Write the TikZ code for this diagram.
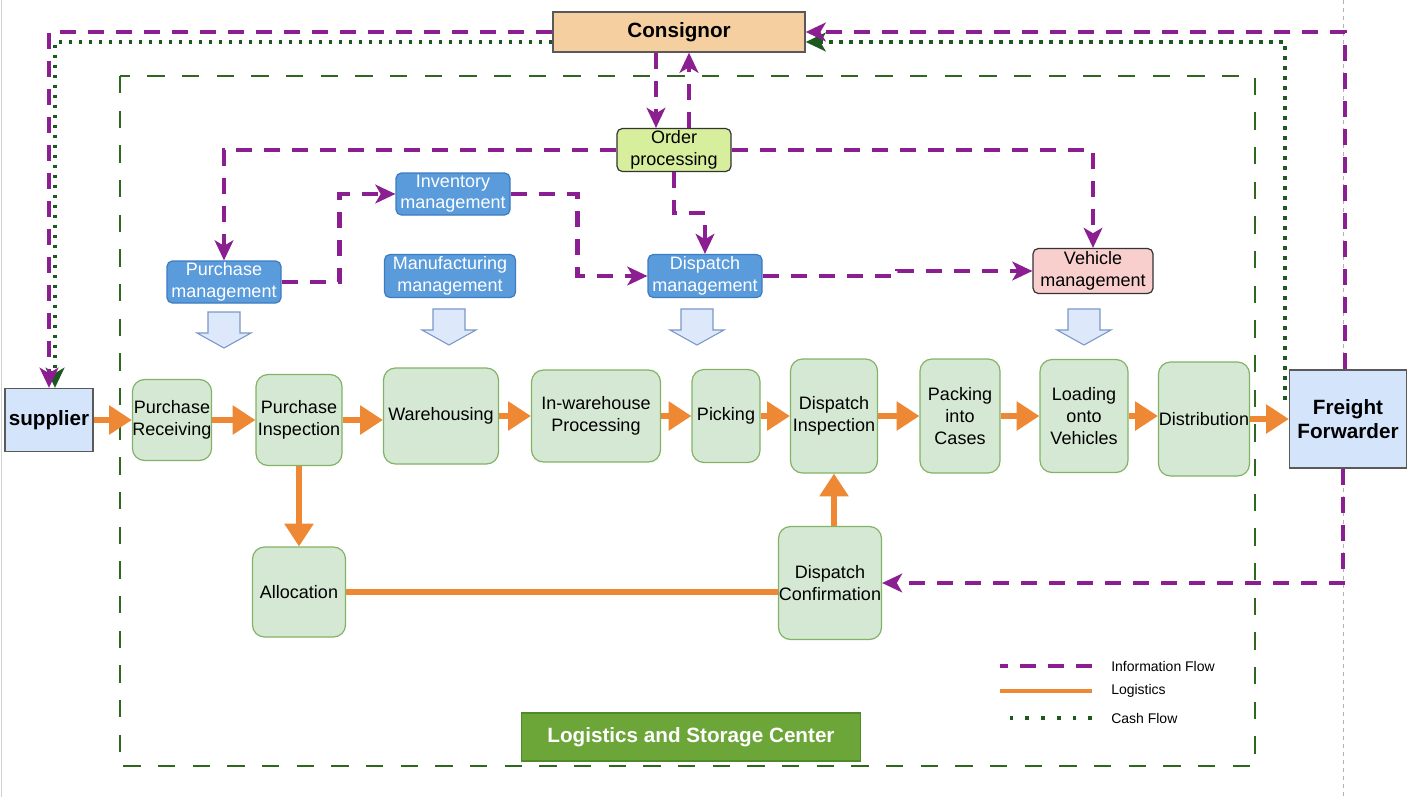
\documentclass[tikz,border=0pt]{standalone}
\usepackage{fontspec}
\setmainfont{Liberation Sans}
\usetikzlibrary{arrows.meta,calc}

\definecolor{infopurple}{RGB}{139,30,145}
\definecolor{logiorange}{RGB}{238,136,52}
\definecolor{cashgreen}{RGB}{28,88,32}
\definecolor{centergreen}{RGB}{46,104,30}
\definecolor{stepfill}{HTML}{D5E8D4}
\definecolor{stepdraw}{HTML}{82B366}
\definecolor{mgmtfill}{HTML}{5A9BDB}
\definecolor{mgmtdraw}{HTML}{3D7CC0}
\definecolor{partyfill}{HTML}{D4E5FB}
\definecolor{consfill}{HTML}{F5CFA0}
\definecolor{orderfill}{HTML}{D7EE9C}
\definecolor{vehfill}{HTML}{F8CFCD}
\definecolor{hollowfill}{HTML}{DDE8FA}
\definecolor{hollowdraw}{HTML}{7B97C8}
\definecolor{labelfill}{HTML}{6CA538}
\definecolor{labeldraw}{HTML}{4F8A2A}

\begin{document}
\begin{tikzpicture}[x=0.75pt,y=-0.75pt]
    \tikzstyle{stepbox} = [rectangle, rounded corners=9pt, draw=stepdraw, fill=stepfill, line width=0.9pt, align=center, inner sep=0pt, font=\fontsize{13.5}{16.5}\selectfont]
    \tikzstyle{mgmt} = [rectangle, rounded corners=4pt, draw=mgmtdraw, fill=mgmtfill, line width=0.9pt, align=center, inner sep=0pt, text=white, minimum width=85.5pt, minimum height=31.5pt, font=\fontsize{13.5}{16}\selectfont]
    \tikzstyle{infobox} = [rectangle, rounded corners=4pt, draw=black!80, line width=0.9pt, align=center, inner sep=0pt, font=\fontsize{13.5}{16}\selectfont]
    \tikzstyle{party} = [rectangle, draw=black!65, fill=partyfill, line width=1pt, align=center, inner sep=0pt, font=\fontsize{15.5}{18}\selectfont\bfseries]
    \tikzstyle{logi} = [-{Triangle[length=17pt,width=21pt]}, draw=logiorange, line width=3.9pt]
    \tikzstyle{info} = [-{Stealth[length=15pt,width=14pt,inset=4pt]}, draw=infopurple, line width=3.5pt, dash pattern=on 12pt off 9pt]
    \tikzstyle{cash} = [-{Stealth[length=15pt,width=14pt,inset=4pt]}, draw=cashgreen, line width=2.8pt, dash pattern=on 2.8pt off 4.7pt]
    \tikzstyle{hollow} = [draw=hollowdraw, fill=hollowfill, line width=0.8pt]
    \tikzstyle{legtext} = [anchor=west, inner sep=0pt, font=\fontsize{10.5}{12}\selectfont]

    \fill[white] (0,0) rectangle (1425,797);
    \useasboundingbox (0,0) rectangle (1425,797);
    \draw[black!18, line width=0.75pt] (1.5,0) -- (1.5,797);
    \draw[black!30, line width=0.6pt, dash pattern=on 3pt off 3pt] (1343,0) -- (1343,797);

    % logistics and storage center frame
    \draw[centergreen, line width=1.8pt, dash pattern=on 13pt off 13pt] (120,76) rectangle (1255,766);
    \node(center) [rectangle, draw=labeldraw, fill=labelfill, text=white, line width=0.9pt, font=\fontsize{15.5}{18}\selectfont\bfseries, minimum width=254pt, minimum height=36pt] at (691,737) {Logistics and Storage Center};

    % parties
    \node(consignor) [party, fill=consfill, minimum width=189pt, minimum height=30pt] at (679,32) {Consignor};
    \node(supplier) [party, minimum width=66pt, minimum height=47.25pt] at (49,420) {supplier};
    \node(forwarder) [party, minimum width=87.75pt, minimum height=73.5pt] at (1348,419) {Freight\\Forwarder};

    % management layer
    \node(order) [infobox, fill=orderfill, minimum width=85.5pt, minimum height=32.25pt] at (674,150) {Order\\processing};
    \node(purchmgmt) [mgmt] at (224,282) {Purchase\\management};
    \node(invmgmt) [mgmt] at (453,194) {Inventory\\management};
    \node(manumgmt) [mgmt, minimum width=98.25pt, minimum height=32.25pt] at (450,276) {Manufacturing\\management};
    \node(dispmgmt) [mgmt, minimum height=32.25pt] at (705,276) {Dispatch\\management};
    \node(vehmgmt) [infobox, fill=vehfill, minimum width=90pt, minimum height=33.75pt] at (1093,271) {Vehicle\\management};

    \foreach \x/\y in {224/312, 449/309, 697/309, 1084/309}
        \draw[hollow] (\x-16,\y) -- (\x+16,\y) -- (\x+16,\y+21) -- (\x+27,\y+21) -- (\x,\y+36) -- (\x-27,\y+21) -- (\x-16,\y+21) -- cycle;

    % process steps
    \node(precv) [stepbox, minimum width=58.5pt, minimum height=60.75pt] at (172,420) {Purchase\\Receiving};
    \node(pinsp) [stepbox, minimum width=64.5pt, minimum height=68.25pt] at (299,420) {Purchase\\Inspection};
    \node(whouse) [stepbox, minimum width=86.25pt, minimum height=72pt] at (441,416) {Warehousing};
    \node(iwproc) [stepbox, minimum width=96.75pt, minimum height=69pt] at (596,416) {In-warehouse\\Processing};
    \node(picking) [stepbox, minimum width=51pt, minimum height=69.75pt] at (726,416) {Picking};
    \node(dinsp) [stepbox, minimum width=65.25pt, minimum height=85.5pt] at (834,416) {Dispatch\\Inspection};
    \node(packing) [stepbox, minimum width=60pt, minimum height=85.5pt] at (960,416) {Packing\\into\\Cases};
    \node(loading) [stepbox, minimum width=66pt, minimum height=84.75pt] at (1084,416) {Loading\\onto\\Vehicles};
    \node(distrib) [stepbox, minimum width=68.25pt, minimum height=85.5pt] at (1204,419) {Distribution};
    \node(alloc) [stepbox, minimum width=69.75pt, minimum height=67.5pt] at (299,592) {Allocation};
    \node(dconf) [stepbox, minimum width=77.25pt, minimum height=84.75pt] at (830,583) {Dispatch\\Confirmation};

    % cash flow
    \draw[cash] ($(consignor.west)+(0,10)$) -| ($(supplier.north)+(6,0)$);
    \draw[cash] ($(forwarder.west)+(-4,-19)$) |- ($(consignor.east)+(0,10)$);

    % information flow
    \draw[info] (consignor.west) -| (supplier.north);
    \draw[info] ($(forwarder.north)+(-3,0)$) |- (consignor.east);
    \draw[info] ($(forwarder.south)+(-5,0)$) |- (dconf.east);
    \draw[info] ($(consignor.south)+(-23,0)$) -- ($(order.north)+(-18,0)$);
    \draw[info] ($(order.north)+(15,0)$) -- ($(consignor.south)+(10,0)$);
    \draw[info] (order.west) -| (purchmgmt.north);
    \draw[info] (order.east) -| (vehmgmt.north);
    \draw[info] (order.south) -- ++(0,41) -| (dispmgmt.north);
    \draw[info] (purchmgmt.east) -- ++(58,0) |- (invmgmt.west);
    \draw[info] (invmgmt.east) -- ++(67,0) |- (dispmgmt.west);
    \draw[info] (dispmgmt.east) -- ++(135,0) |- (vehmgmt.west);

    % logistics
    \foreach \a/\b in {supplier/precv, precv/pinsp, pinsp/whouse, whouse/iwproc, iwproc/picking, picking/dinsp, dinsp/packing, packing/loading, loading/distrib, distrib/forwarder}
        \draw[logi] (\a.east) -- (\a.east -| \b.west);
    \draw[logi] (pinsp.south) -- (alloc.north);
    \draw[logi, -] (alloc.east) -- (alloc.east -| dconf.west);
    \draw[logi] (dinsp.south |- dconf.north) -- (dinsp.south);

    % legend
    \node(leginfo) [legtext] at (1111,666) {Information Flow};
    \node(leglogi) [legtext] at (1111,691) {Logistics};
    \node(legcash) [legtext] at (1111,718) {Cash Flow};
    \draw[info, -] ($(leginfo.west)+(-19,0)$) -- ++(-92,0);
    \draw[logiorange, line width=3pt] ($(leglogi.west)+(-19,0)$) -- ++(-92,0);
    \draw[cashgreen, line width=2.8pt, dash pattern=on 2.8pt off 9pt] ($(legcash.west)+(-19,0)$) -- ++(-92,0);
\end{tikzpicture}
\end{document}
